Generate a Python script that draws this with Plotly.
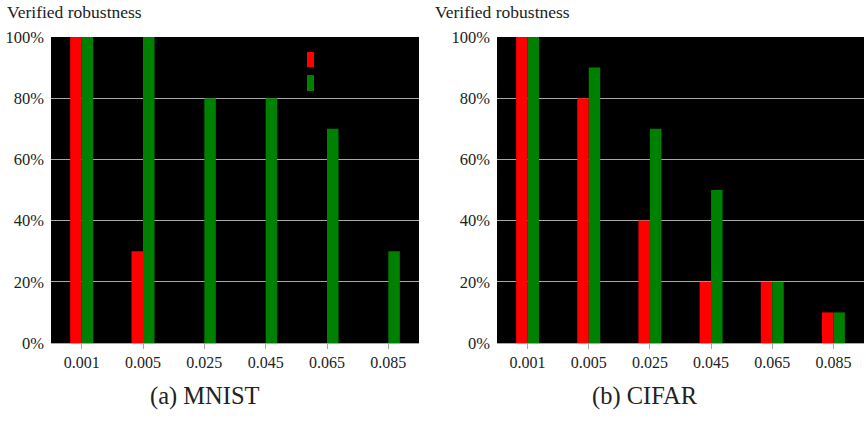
import plotly.graph_objects as go

categories = ["0.001", "0.005", "0.025", "0.045", "0.065", "0.085"]
mnist_red = [100, 30, 0, 0, 0, 0]
mnist_green = [100, 100, 80, 80, 70, 30]
cifar_red = [100, 80, 40, 20, 20, 10]
cifar_green = [100, 90, 70, 50, 20, 10]
y_ticks = [0, 20, 40, 60, 80, 100]
y_tick_labels = ["0%", "20%", "40%", "60%", "80%", "100%"]

W, H = 866, 426
FONT = "Liberation Serif"
RED = "#ff0000"
GREEN = "#008000"
GRID = "#a8a8a8"


def px(x):
    return x / W


def py(y):
    return 1 - y / H


fig = go.Figure()
for xa, ya, red, green in [("x", "y", mnist_red, mnist_green), ("x2", "y2", cifar_red, cifar_green)]:
    fig.add_trace(go.Bar(x=categories, y=red, marker=dict(color=RED, line=dict(width=0)),
                         xaxis=xa, yaxis=ya, showlegend=False))
    fig.add_trace(go.Bar(x=categories, y=green, marker=dict(color=GREEN, line=dict(width=0)),
                         xaxis=xa, yaxis=ya, showlegend=False))

y_dom = [py(343), py(37)]
xaxis_common = dict(type="category", showgrid=False, showline=True, linecolor=GRID, linewidth=1,
                    ticks="outside", ticklen=5, tickcolor=GRID, tickwidth=1, automargin=False,
                    tickfont=dict(family=FONT, size=16, color="#222"), fixedrange=True)
yaxis_common = dict(range=[0, 100], tickvals=y_ticks, ticktext=y_tick_labels, showgrid=True,
                    gridcolor=GRID, gridwidth=1, zeroline=False, showline=False, ticks="",
                    ticklabelstandoff=6, automargin=False,
                    tickfont=dict(family=FONT, size=16.5, color="#222"), domain=y_dom, fixedrange=True)

fig.update_layout(
    template="none",
    width=W, height=H,
    margin=dict(l=0, r=0, t=0, b=0),
    paper_bgcolor="white",
    plot_bgcolor="black",
    barmode="group",
    bargap=0.625,
    bargroupgap=0,
    xaxis=dict(domain=[px(51), px(419)], anchor="y", **xaxis_common),
    yaxis=dict(anchor="x", **yaxis_common),
    xaxis2=dict(domain=[px(497), px(864)], anchor="y2", **xaxis_common),
    yaxis2=dict(anchor="x2", **yaxis_common),
    showlegend=False,
)

annotations = [
    dict(text="Verified robustness", x=px(5), y=py(12)),
    dict(text="Verified robustness", x=px(433), y=py(12)),
]
for a in annotations:
    a.update(xref="paper", yref="paper", xanchor="left", yanchor="middle", showarrow=False,
             font=dict(family=FONT, size=17.5, color="#222"))
captions = [
    dict(text="(a) MNIST", x=px(205)),
    dict(text="(b) CIFAR", x=px(645)),
]
for c in captions:
    c.update(y=py(396), xref="paper", yref="paper", xanchor="center", yanchor="middle",
             showarrow=False, font=dict(family=FONT, size=24.5, color="#222"))
fig.update_layout(annotations=annotations + captions)

# legend markers (no text) in the MNIST panel
fig.add_shape(type="rect", xref="paper", yref="paper", x0=px(307), x1=px(314),
              y0=py(67), y1=py(52), fillcolor=RED, line=dict(width=0))
fig.add_shape(type="rect", xref="paper", yref="paper", x0=px(307), x1=px(314),
              y0=py(91), y1=py(75), fillcolor=GREEN, line=dict(width=0))

fig.write_html("out.html",
               config={"displayModeBar": False},
               post_script="document.body.style.margin='0';document.body.style.overflow='hidden';")
